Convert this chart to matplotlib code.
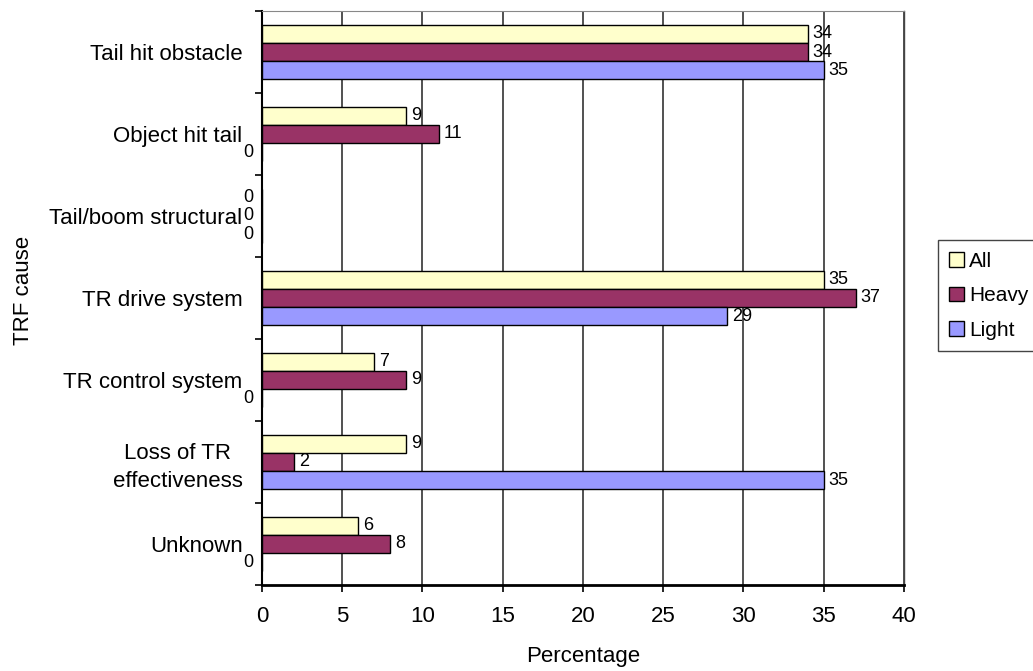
import matplotlib.pyplot as plt
import numpy as np

plt.rcParams['font.family'] = ['Liberation Sans', 'DejaVu Sans']

# causes of tail rotor failure, listed top to bottom
causes = ['Tail hit obstacle', 'Object hit tail', 'Tail/boom structural',
          'TR drive system', 'TR control system', 'Loss of TR\neffectiveness',
          'Unknown']

# percentage of cases per helicopter class
all_pct = [34, 9, 0, 35, 7, 9, 6]
heavy_pct = [34, 11, 0, 37, 9, 2, 8]
light_pct = [35, 0, 0, 29, 0, 35, 0]

series = [('All', all_pct, '#FFFFCC'),
          ('Heavy', heavy_pct, '#993366'),
          ('Light', light_pct, '#9999FF')]

fig = plt.figure(figsize=(10.33, 6.71), dpi=100)
ax = fig.add_axes([0.2536, 0.1282, 0.6215, 0.8554])

y = np.arange(len(causes))
h = 0.223
for i, (name, vals, col) in enumerate(series):
    pos = y + (i - 1) * h
    ax.barh(pos, vals, height=h, color=col, edgecolor='black',
            linewidth=1.0, label=name, zorder=3)
    for p, v in zip(pos, vals):
        if v == 0:
            ax.annotate(str(v), (0, p), xytext=(-6.5, 0),
                        textcoords='offset points', ha='right', va='center',
                        fontsize=13, annotation_clip=False)
        else:
            ax.annotate(str(v), (v, p), xytext=(3.5, 0),
                        textcoords='offset points', ha='left', va='center',
                        fontsize=13)

ax.set_xlim(0, 40)
ax.set_ylim(len(causes) - 0.5, -0.5)
ax.set_xticks(np.arange(0, 41, 5))
ax.set_yticks(y)
ax.set_yticklabels(causes, fontsize=16)
for lab in ax.get_yticklabels():
    lab.set_multialignment('center')
    lab.set_linespacing(1.4)
ax.set_yticks(np.arange(-0.5, len(causes), 1), minor=True)
ax.tick_params(axis='y', which='major', length=0, pad=14)
ax.tick_params(axis='y', which='minor', length=5, width=1.2, direction='out')
ax.tick_params(axis='x', length=5, width=1.2, labelsize=16, pad=10)

ax.grid(axis='x', color='#222222', linewidth=1.1, zorder=0)

ax.spines['left'].set_linewidth(1.5)
ax.spines['bottom'].set_linewidth(2.0)
ax.spines['top'].set_color('#888888')
ax.spines['top'].set_linewidth(0.8)
ax.spines['right'].set_color('#444444')
ax.spines['right'].set_linewidth(1.0)

ax.set_xlabel('Percentage', fontsize=16, labelpad=14)
ax.set_ylabel('TRF cause', fontsize=16)
ax.yaxis.set_label_coords(-0.355, 0.514)

leg = ax.legend(loc='upper left', bbox_to_anchor=(0.908, 0.642),
                bbox_transform=fig.transFigure, borderaxespad=0,
                fontsize=15, fancybox=False, edgecolor='#444444',
                handlelength=0.7, handleheight=0.7, handletextpad=0.25,
                labelspacing=0.75, borderpad=0.55, framealpha=1)
leg.get_frame().set_linewidth(1.0)

fig.savefig('out.png', dpi=100)
